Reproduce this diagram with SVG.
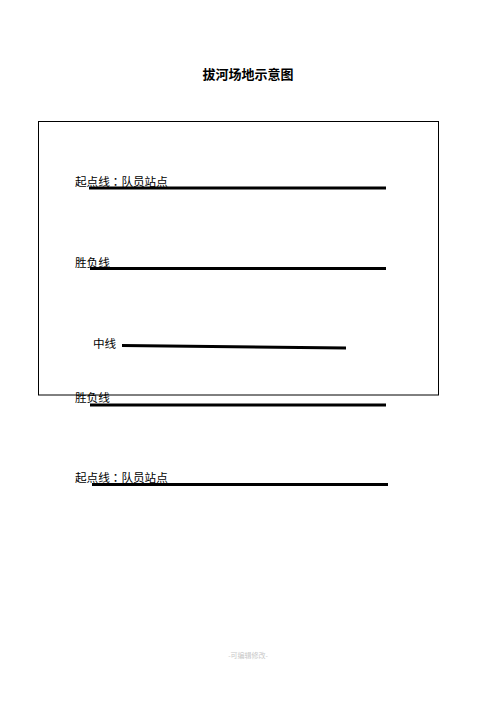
<svg xmlns="http://www.w3.org/2000/svg" width="496" height="702" viewBox="0 0 496 702">
<style>
.t{font-family:"Liberation Sans","Noto Sans CJK SC",sans-serif;font-size:11.6px;fill:#000}
.c{font-family:"Noto Sans CJK TC",sans-serif}
.ln{stroke:#000;stroke-width:3;fill:none}
</style>
<rect width="496" height="702" fill="#fff"/>
<text x="248" y="79" text-anchor="middle" font-family="'Liberation Sans','Noto Sans CJK SC',sans-serif" font-size="13" font-weight="bold">拔河场地示意图</text>
<g id="field"><rect x="38.5" y="121.5" width="400" height="273.5" fill="none" stroke="#000" stroke-width="1"/></g>
<g id="connectors">
<line class="ln" x1="89" y1="188" x2="386" y2="188"/>
<line class="ln" x1="90" y1="268.5" x2="386" y2="268.5"/>
<line class="ln" x1="122" y1="345.5" x2="346" y2="348"/>
<line class="ln" x1="90" y1="405" x2="386" y2="405"/>
<line class="ln" x1="92" y1="484.5" x2="388" y2="484.5"/>
</g>
<g id="start-top"><text class="t" x="75" y="186">起点线<tspan class="c">：</tspan>队员站点</text></g>
<g id="win-top"><text class="t" x="75" y="267">胜负线</text></g>
<g id="center"><text class="t" x="93" y="348">中线</text></g>
<g id="win-bottom"><text class="t" x="75" y="402">胜负线</text></g>
<g id="start-bottom"><text class="t" x="75" y="482">起点线<tspan class="c">：</tspan>队员站点</text></g>
<text x="248" y="658" text-anchor="middle" font-family="'Liberation Serif','Noto Sans CJK SC',serif" font-size="7" fill="#c8c8c8">-可编辑修改-</text>
</svg>
